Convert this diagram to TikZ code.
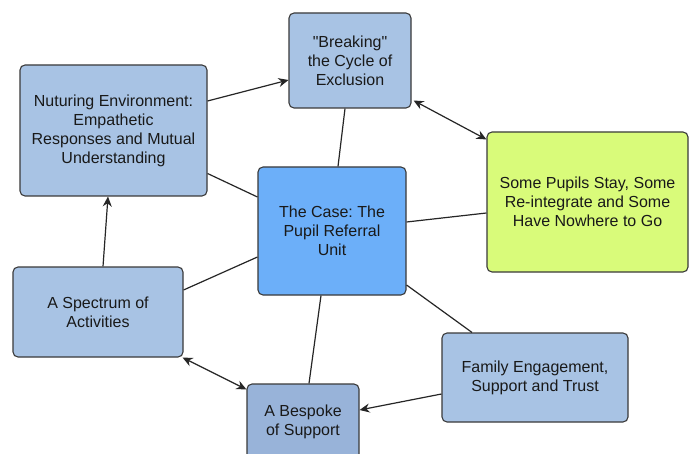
\documentclass[tikz,border=0pt]{standalone}
\usepackage{fontspec}
\setmainfont{Liberation Sans}[Ligatures=TeXOff]
\usetikzlibrary{arrows.meta,calc}
\definecolor{boxblue}{HTML}{A8C3E4}
\definecolor{boxbluedark}{HTML}{98B3D9}
\definecolor{casblue}{HTML}{6CAFF9}
\definecolor{boxgreen}{HTML}{D9FB7A}
\definecolor{edgegray}{HTML}{3A3A3A}
\frenchspacing
\tikzset{
  box/.style={draw=edgegray, line width=1.1pt, rounded corners=5pt, align=center,
    font=\fontsize{16}{19}\selectfont, text=black!90, inner sep=0pt},
  conn/.style={draw=black!85, line width=1.2pt},
  arr/.style={conn, -{Stealth[length=10pt,width=9pt]}},
  darr/.style={conn, {Stealth[length=10pt,width=9pt]}-{Stealth[length=10pt,width=9pt]}}
}
\begin{document}
\begin{tikzpicture}[x=1pt,y=-1pt]
\fill[white] (0,0) rectangle (690,454);
\useasboundingbox (0,0) rectangle (690,454);
\begin{scope}
\clip (0,0) rectangle (690,454);
\node[box, fill=boxblue, minimum width=122pt, minimum height=95pt] (brk) at (350,60.5) {"Breaking"\\the Cycle of\\Exclusion};
\node[box, fill=boxblue, minimum width=187pt, minimum height=131pt] (nur) at (113.5,130.5) {Nuturing Environment:\\Empathetic\\Responses and Mutual\\Understanding};
\node[box, fill=casblue, minimum width=148pt, minimum height=128pt] (cas) at (332,231) {The Case: The\\Pupil Referral\\Unit};
\node[box, fill=boxgreen, minimum width=201pt, minimum height=140pt] (grn) at (587.5,202) {Some Pupils Stay, Some\\Re-integrate and Some\\Have Nowhere to Go};
\node[box, fill=boxblue, minimum width=170pt, minimum height=90pt] (spe) at (98,312) {A Spectrum of\\Activities};
\node[box, fill=boxblue, minimum width=186pt, minimum height=89pt] (fam) at (535,377.5) {Family Engagement,\\Support and Trust};
\node[box, fill=boxbluedark, minimum width=112pt, minimum height=76pt] (bes) at (303,422) {A Bespoke\\of Support};

\draw[conn] ([xshift=6pt]cas.north) -- ([xshift=-5pt]brk.south);
\draw[conn] ([yshift=34pt]cas.west) -- ([yshift=-43pt]nur.east);
\draw[conn] ([yshift=9pt]cas.east) -- ([yshift=-11pt]grn.west);
\draw[conn] ([yshift=-26pt]cas.west) -- ([yshift=22pt]spe.east);
\draw[conn] ([xshift=-11pt]cas.south) -- ([xshift=6pt]bes.north);
\draw[conn] ([yshift=-54pt]cas.east) -- ([xshift=-63pt]fam.north);

\draw[arr] ([yshift=29.5pt]nur.east) -- ([yshift=-19.5pt]brk.west);
\draw[darr] ([xshift=2pt,yshift=-40pt]brk.east) -- ([yshift=-8pt]grn.north west);
\draw[arr] ([xshift=5pt]spe.north) -- ([xshift=-5.5pt]nur.south);
\draw[darr] ([xshift=-1pt]spe.south east) -- ([yshift=-6pt]bes.north west);
\draw[arr] ([yshift=-16.5pt]fam.west) -- ([yshift=12pt]bes.east);
\end{scope}
\end{tikzpicture}
\end{document}
